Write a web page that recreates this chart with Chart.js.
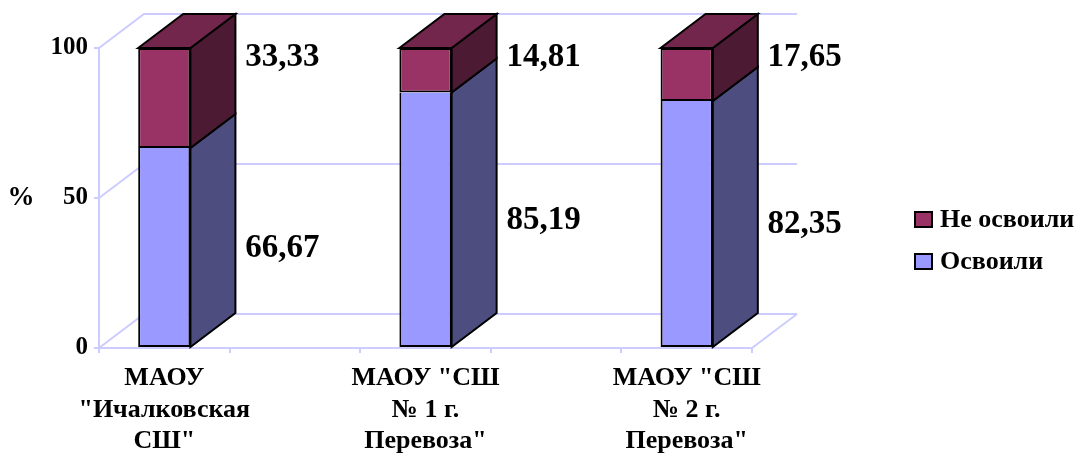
<!DOCTYPE html>
<html><head><meta charset="utf-8">
<script src="https://cdn.jsdelivr.net/npm/chart.js@4"></script>
<style>html,body{margin:0;padding:0;background:#fff}</style>
</head><body>
<canvas id="c" width="1078" height="455"></canvas>
<script>
const categories = [['МАОУ','"Ичалковская','СШ"'], '', ['МАОУ "СШ','№ 1 г.','Перевоза"'], '', ['МАОУ "СШ','№ 2 г.','Перевоза"']];
const mastered = [66.67, null, 85.19, null, 82.35];
const notMastered = [33.33, null, 14.81, null, 17.65];
const seriesNames = ['Освоили', 'Не освоили'];
const yTicks = [0, 50, 100];
const yTitle = '%';

const FONT = "'Liberation Serif', 'Times New Roman', serif";
const DX = 45, DY = -34;
const GRID = '#CCCCFF';
const frontColors = ['#9999FF', '#993366'];
const sideColors = ['#4D4D80', '#4D1A33'];
const topColors = ['#7373BF', '#73264C'];
const fmt = v => v.toFixed(2).replace('.', ',');

function poly(ctx, pts, fill) {
  ctx.beginPath();
  ctx.moveTo(pts[0][0], pts[0][1]);
  for (let i = 1; i < pts.length; i++) ctx.lineTo(pts[i][0], pts[i][1]);
  ctx.closePath();
  ctx.fillStyle = fill; ctx.fill();
  ctx.strokeStyle = '#000'; ctx.lineWidth = 2; ctx.stroke();
}

const walls = {
  id: 'walls',
  beforeDatasetsDraw(chart) {
    const {ctx, chartArea: a, scales: {y}} = chart;
    ctx.save();
    ctx.strokeStyle = GRID; ctx.lineWidth = 2;
    yTicks.forEach(v => {
      const py = Math.round(y.getPixelForValue(v));
      ctx.beginPath();
      ctx.moveTo(a.left, py);
      ctx.lineTo(a.left + DX, py + DY);
      ctx.lineTo(a.right + DX, py + DY);
      ctx.stroke();
    });
    const p0 = Math.round(y.getPixelForValue(0));
    ctx.beginPath(); ctx.moveTo(a.right, p0); ctx.lineTo(a.right + DX, p0 + DY); ctx.stroke();
    ctx.restore();
  }
};

const bars3d = {
  id: 'bars3d',
  afterDatasetsDraw(chart) {
    const ctx = chart.ctx;
    ctx.save();
    ctx.lineJoin = 'miter';
    const n = chart.data.labels.length;
    for (let j = 0; j < n; j++) {
      let topIdx = -1;
      chart.data.datasets.forEach((ds, i) => { if (ds.data[j] != null) topIdx = i; });
      chart.data.datasets.forEach((ds, i) => {
        if (ds.data[j] == null) return;
        const el = chart.getDatasetMeta(i).data[j];
        const l = el.x - el.width / 2, r = el.x + el.width / 2;
        const t = Math.min(el.y, el.base), b = Math.max(el.y, el.base);
        poly(ctx, [[r, t], [r + DX, t + DY], [r + DX, b + DY], [r, b]], sideColors[i]);
        if (i === topIdx) poly(ctx, [[l, t], [l + DX, t + DY], [r + DX, t + DY], [r, t]], topColors[i]);
      });
    }
    ctx.restore();
  }
};

const labelsPlugin = {
  id: 'labelsPlugin',
  afterDraw(chart) {
    const {ctx, chartArea: a, scales: {y}} = chart;
    ctx.save();
    ctx.fillStyle = '#000';
    ctx.textBaseline = 'middle';
    ctx.font = "bold 33px " + FONT;
    ctx.textAlign = 'center';
    const n = chart.data.labels.length;
    for (let j = 0; j < n; j++) {
      chart.data.datasets.forEach((ds, i) => {
        const v = ds.data[j];
        if (v == null) return;
        const el = chart.getDatasetMeta(i).data[j];
        const px = el.x + 118;
        const py = i === 0 ? y.getPixelForValue(v / 2) : y.getPixelForValue(100) + 9;
        ctx.fillText(fmt(v), px, py);
      });
    }
    ctx.font = "bold 27px " + FONT;
    ctx.fillText(yTitle, 21, y.getPixelForValue(50));
    ctx.font = "bold 26px " + FONT;
    ctx.textAlign = 'left';
    ctx.textBaseline = 'alphabetic';
    const lx = chart.width - 163;
    const ly0 = y.getPixelForValue(50) + 14;
    [1, 0].forEach((i, k) => {
      const yy = ly0 + k * 42;
      ctx.fillStyle = frontColors[i];
      ctx.fillRect(lx, yy, 17, 15);
      ctx.strokeStyle = '#000'; ctx.lineWidth = 2;
      ctx.strokeRect(lx, yy, 17, 15);
      ctx.fillStyle = '#000';
      ctx.fillText(seriesNames[i], lx + 25, yy + 15);
    });
    ctx.restore();
  }
};

new Chart(document.getElementById('c'), {
  type: 'bar',
  data: {
    labels: categories,
    datasets: [
      { label: seriesNames[0], data: mastered, backgroundColor: frontColors[0], borderColor: '#000', borderWidth: 2, borderSkipped: 'top' },
      { label: seriesNames[1], data: notMastered, backgroundColor: frontColors[1], borderColor: '#000', borderWidth: 2, borderSkipped: false }
    ]
  },
  options: {
    responsive: false,
    animation: false,
    devicePixelRatio: 1,
    layout: { padding: { top: 48, right: 326, left: 0, bottom: 0 } },
    plugins: { legend: { display: false }, tooltip: { enabled: false } },
    datasets: { bar: { categoryPercentage: 1, barPercentage: 0.4 } },
    scales: {
      x: {
        stacked: true,
        afterFit: s => { s.height = 107; },
        grid: { offset: true, drawOnChartArea: false, drawTicks: true, tickLength: 5, color: GRID, lineWidth: 2 },
        border: { display: true, color: GRID, width: 2 },
        ticks: { autoSkip: false, maxRotation: 0, minRotation: 0, color: '#000', padding: 10,
                 font: { family: FONT, size: 26, weight: 'bold', lineHeight: 1.2 } }
      },
      y: {
        stacked: true,
        min: 0, max: 100,
        afterFit: s => { s.width = 99; },
        afterBuildTicks: s => { s.ticks = yTicks.map(v => ({ value: v })); },
        grid: { drawOnChartArea: false, drawTicks: true, tickLength: 5, color: GRID, lineWidth: 2 },
        border: { display: true, color: GRID, width: 2 },
        ticks: { color: '#000', padding: 6, font: { family: FONT, size: 25, weight: 'bold' } }
      }
    }
  },
  plugins: [walls, bars3d, labelsPlugin]
});
</script>
</body></html>
